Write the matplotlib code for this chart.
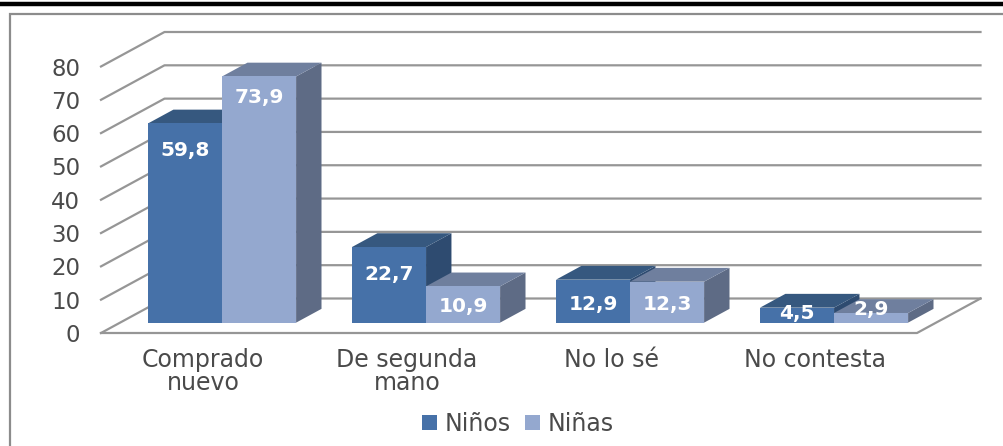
import matplotlib
matplotlib.use("Agg")
import matplotlib.pyplot as plt
from matplotlib.lines import Line2D
from matplotlib.patches import Polygon, Patch

W, H = 1004, 446

categories = ["Comprado\nnuevo", "De segunda\nmano", "No lo sé", "No contesta"]
ninos = [59.8, 22.7, 12.9, 4.5]
ninas = [73.9, 10.9, 12.3, 2.9]
series_names = ["Niños", "Niñas"]
y_ticks = [0, 10, 20, 30, 40, 50, 60, 70, 80]

# label offsets below the front top edge, in pixels (layout only)
nino_label_offset = [27, 27, 25, 6]
nina_label_offset = [21, 20, 23, -3]

plt.rcParams["font.family"] = ["DejaVu Sans"]
fig = plt.figure(figsize=(W / 100, H / 100), dpi=100, facecolor="white")

left, right, y0, y80 = 101, 917, 333, 66.5
ax = fig.add_axes([left / W, 1 - y0 / H, (right - left) / W, (y0 - y80) / H])
ax.set_xlim(-0.5, 3.5)
ax.set_ylim(0, 80)
ax.patch.set_alpha(0)
for s in ax.spines.values():
    s.set_visible(False)

px_x = (right - left) / 4
px_y = (y0 - y80) / 80
DX = 63.5 / px_x   # full floor depth, horizontal, in category units
DY = 34.5 / px_y   # full floor depth, vertical, in value units


def proj(x, y, d):
    return (x + d * DX, y + d * DY)


# frame and top rule
def figline(xs, ys, **kw):
    fig.add_artist(Line2D([x / W for x in xs], [1 - y / H for y in ys],
                          transform=fig.transFigure, **kw))


figline([0, W], [3.5, 3.5], color="black", lw=3.2, solid_capstyle="butt")
figline([9.5, 9.5, W], [H, 14, 14], color="#8c8c8c", lw=1.6, solid_joinstyle="miter")

GRID = "#969696"
LW = 1.6
for t in y_ticks:
    xs = [-0.5, proj(-0.5, t, 1)[0], proj(3.5, t, 1)[0]]
    ys = [t, t + DY, t + DY]
    ax.plot(xs, ys, color=GRID, lw=LW, clip_on=False, zorder=1, solid_joinstyle="round")
ax.plot([-0.5, 3.5, proj(3.5, 0, 1)[0]], [0, 0, DY], color=GRID, lw=LW, clip_on=False, zorder=1)

d0, d1 = 0.30, 0.70
bw = 0.363
STYLE = {
    0: dict(face="#4671a8", top="#36587f", side="#2e4b70"),
    1: dict(face="#94a8cf", top="#6f7f9e", side="#5e6b85"),
}


def bar3d(xa, xb, v, st, z):
    front = [proj(xa, 0, d0), proj(xb, 0, d0), proj(xb, v, d0), proj(xa, v, d0)]
    top = [proj(xa, v, d0), proj(xb, v, d0), proj(xb, v, d1), proj(xa, v, d1)]
    side = [proj(xb, 0, d0), proj(xb, 0, d1), proj(xb, v, d1), proj(xb, v, d0)]
    ax.add_patch(Polygon(side, closed=True, fc=st["side"], ec="none", clip_on=False, zorder=z))
    ax.add_patch(Polygon(top, closed=True, fc=st["top"], ec="none", clip_on=False, zorder=z))
    ax.add_patch(Polygon(front, closed=True, fc=st["face"], ec="none", clip_on=False, zorder=z + 0.1))


for i in range(len(categories)):
    bar3d(i - bw, i, ninos[i], STYLE[0], 3 + i * 2)
    bar3d(i, i + bw, ninas[i], STYLE[1], 3.5 + i * 2)

for i in range(len(categories)):
    for xc, v, off in ((i - bw / 2, ninos[i], nino_label_offset[i]),
                       (i + bw / 2, ninas[i], nina_label_offset[i])):
        px, py = proj(xc, v, d0)
        ax.annotate(f"{v:.1f}".replace(".", ","), (px, py),
                    xytext=(0, -off * 0.72), textcoords="offset points",
                    ha="center", va="center", color="white", fontsize=14.5,
                    fontweight="bold", zorder=20, annotation_clip=False)

TXT = "#4a4a4a"
ax.set_yticks(y_ticks)
ax.set_yticklabels([str(t) for t in y_ticks], fontsize=16.5, color=TXT)
ax.set_xticks(range(len(categories)))
ax.set_xticklabels(categories, fontsize=17, color=TXT, linespacing=0.95)
ax.tick_params(axis="y", length=0, pad=15)
ax.tick_params(axis="x", length=0, pad=11)

handles = [Patch(fc=STYLE[0]["face"], ec="none"), Patch(fc=STYLE[1]["face"], ec="none")]
fig.legend(handles, series_names, ncol=2, loc="center",
           bbox_to_anchor=(518 / W, 1 - 424 / H), frameon=False,
           fontsize=17, labelcolor=TXT, handlelength=0.62, handleheight=0.62,
           handletextpad=0.35, columnspacing=0.6, borderpad=0)

fig.savefig("out.png", dpi=100, facecolor="white")
